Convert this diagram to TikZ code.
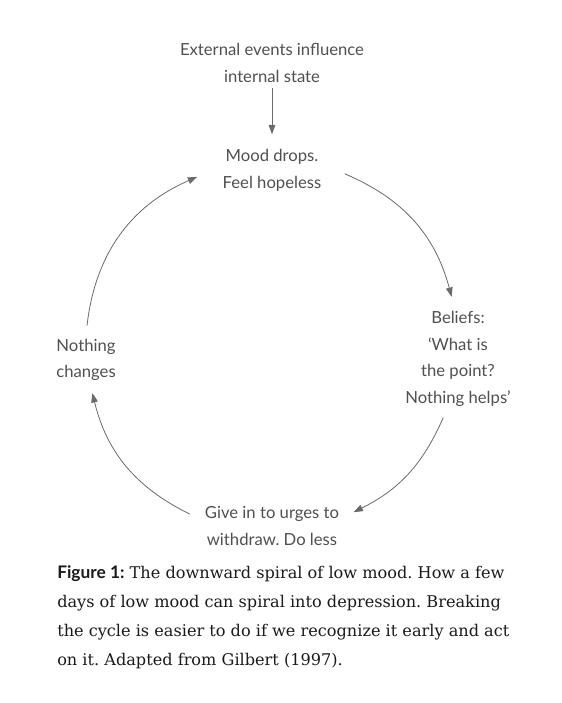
\documentclass[tikz,border=0pt]{standalone}
\usepackage{fontspec}
\setmainfont{DejaVu Serif}
\newfontfamily\dsfont{Lato}
\usepackage{tikz}
\usetikzlibrary{arrows.meta,calc}
\definecolor{dsink}   {HTML}{505050}
\definecolor{dsline}  {HTML}{6A6A6A}
\definecolor{dscap}   {HTML}{1A1A1A}
\frenchspacing
\tikzset{
  dsstage/.style={font=\dsfont\fontsize{12.5}{20}\selectfont, text=dsink,
                  align=center, inner sep=1pt},
  dsedge/.style={-{Triangle[length=7pt,width=5pt]}, draw=dsline, line width=0.6pt},
  dscaption/.style={font=\fontsize{12.1}{21.75}\selectfont, text=dscap,
                    align=left, inner sep=0pt, anchor=north west},
}
\begin{document}
\begin{tikzpicture}[x=0.75pt,y=-0.75pt]
  \useasboundingbox (0,0) rectangle (561,703);
  % the four stages of the cycle
  \node[dsstage] (ext)      at (272, 63) {External events influence\\internal state};
  \node[dsstage] (mood)     at (272,170) {Mood drops.\\Feel hopeless};
  \node[dsstage] (beliefs)  at (458,359) {Beliefs:\\‘What is\\the point?\\Nothing helps’};
  \node[dsstage] (withdraw) at (272,526) {Give in to urges to\\withdraw. Do less};
  \node[dsstage] (nothing)  at ( 86,360) {Nothing\\changes};
  \draw[dsedge, shorten <=3pt, shorten >=10pt] (ext) -- (mood);
  % arc ends, on a circle round the middle
  \coordinate (c) at (272,345);
  \coordinate (m1) at ($(c)+(-67:186)$);
  \coordinate (b0) at ($(c)+(-15:186)$);
  \coordinate (b1) at ($(c)+(23:186)$);
  \coordinate (w0) at ($(c)+(64:186)$);
  \coordinate (w1) at ($(c)+(116:188)$);
  \coordinate (n0) at ($(c)+(165:186)$);
  \coordinate (n1) at ($(c)+(186:186)$);
  \coordinate (m0) at ($(c)+(-114:184)$);
  \draw[dsedge] (m1) to[bend left=26] (b0);
  \draw[dsedge] (b1) to[bend left=20] (w0);
  \draw[dsedge] (w1) to[bend left=25] (n0);
  \draw[dsedge] (n1) to[bend left=30] (m0);
  % caption
  \node[dscaption] (cap) at (57,565)
    {{\dsfont\fontsize{13}{21.75}\selectfont\bfseries Figure 1:} The downward spiral of low mood. How a few\\
     days of low mood can spiral into depression. Breaking\\
     the cycle is easier to do if we recognize it early and act\\
     on it. Adapted from Gilbert (1997).};
\end{tikzpicture}
\end{document}
